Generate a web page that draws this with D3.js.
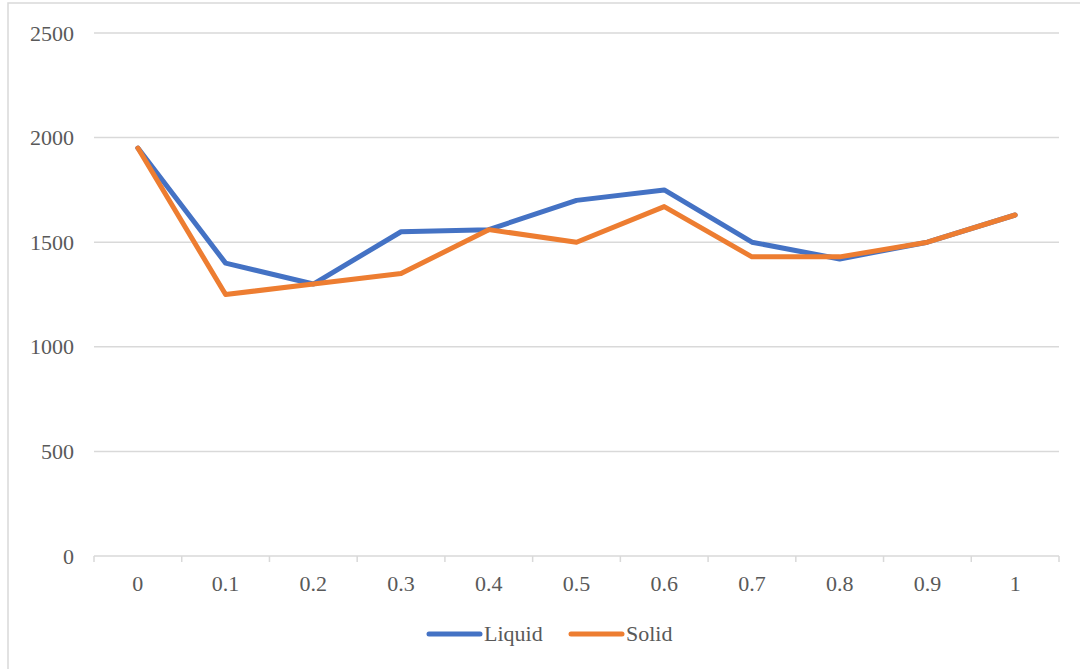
<!DOCTYPE html>
<html>
<head>
<meta charset="utf-8">
<script src="https://cdn.jsdelivr.net/npm/d3@7"></script>
<style>
  html, body { margin: 0; padding: 0; background: #fff; }
  svg { display: block; }
  text { font-family: "Liberation Serif", "Times New Roman", serif; fill: #595959; }
</style>
</head>
<body>
<svg id="chart" width="1080" height="669"></svg>
<script>
const categories = ["0", "0.1", "0.2", "0.3", "0.4", "0.5", "0.6", "0.7", "0.8", "0.9", "1"];
const liquid = [1950, 1400, 1300, 1550, 1560, 1700, 1750, 1500, 1420, 1500, 1630];
const solid  = [1950, 1250, 1300, 1350, 1560, 1500, 1670, 1430, 1430, 1500, 1630];
const yTicks = [0, 500, 1000, 1500, 2000, 2500];
const seriesNames = ["Liquid", "Solid"];
const colors = ["#4472C4", "#ED7D31"];

const svg = d3.select("#chart");
const W = 1080, H = 669;
const m = { left: 94, right: 21, top: 33, bottom: 113 };
const fontSize = 22;

// chart area frame (runs past the right and bottom edges)
svg.append("rect")
  .attr("x", 8).attr("y", 3)
  .attr("width", W + 20).attr("height", H + 20)
  .attr("fill", "#fff").attr("stroke", "#d9d9d9").attr("stroke-width", 1.5);

const x = d3.scaleBand().domain(categories).range([m.left, W - m.right]).padding(0);
const y = d3.scaleLinear().domain([0, 2500]).range([H - m.bottom, m.top]);

// horizontal gridlines
svg.append("g")
  .selectAll("line")
  .data(yTicks.filter(d => d > 0))
  .join("line")
  .attr("x1", m.left).attr("x2", W - m.right)
  .attr("y1", d => y(d)).attr("y2", d => y(d))
  .attr("stroke", "#d9d9d9").attr("stroke-width", 1.5);

// y axis labels
const yAxis = d3.axisLeft(y).tickValues(yTicks).tickSize(0).tickPadding(20).tickFormat(d3.format("d"));
const gy = svg.append("g").attr("transform", `translate(${m.left},0)`).call(yAxis);
gy.select(".domain").remove();
gy.selectAll("text").attr("font-size", fontSize).style("font-family", "Liberation Serif").attr("fill", "#595959");

// x axis with ticks on category boundaries
const gx = svg.append("g").attr("transform", `translate(0,${y(0)})`);
gx.append("line")
  .attr("x1", m.left).attr("x2", W - m.right)
  .attr("stroke", "#d9d9d9").attr("stroke-width", 1.5);
const bounds = categories.map(c => x(c)).concat([x(categories[categories.length - 1]) + x.bandwidth()]);
gx.selectAll("line.tick")
  .data(bounds)
  .join("line").attr("class", "tick")
  .attr("x1", d => d).attr("x2", d => d)
  .attr("y1", 0).attr("y2", 6)
  .attr("stroke", "#d9d9d9").attr("stroke-width", 1.5);
gx.selectAll("text")
  .data(categories)
  .join("text")
  .attr("x", d => x(d) + x.bandwidth() / 2)
  .attr("y", 35)
  .attr("text-anchor", "middle")
  .attr("font-size", fontSize)
  .text(d => d);

// series lines
const line = d3.line()
  .x((d, i) => x(categories[i]) + x.bandwidth() / 2)
  .y(d => y(d));

[liquid, solid].forEach((vals, k) => {
  svg.append("path")
    .datum(vals)
    .attr("d", line)
    .attr("fill", "none")
    .attr("stroke", colors[k])
    .attr("stroke-width", 5)
    .attr("stroke-linejoin", "round")
    .attr("stroke-linecap", "round");
});

// legend
const legendX = [427, 569];
const legendY = 634;
seriesNames.forEach((name, k) => {
  const g = svg.append("g").attr("transform", `translate(${legendX[k]},${legendY})`);
  g.append("line")
    .attr("x1", 2).attr("x2", 53)
    .attr("stroke", colors[k]).attr("stroke-width", 5).attr("stroke-linecap", "round");
  g.append("text")
    .attr("x", 57).attr("y", 7)
    .attr("font-size", fontSize)
    .text(name);
});
</script>
</body>
</html>
